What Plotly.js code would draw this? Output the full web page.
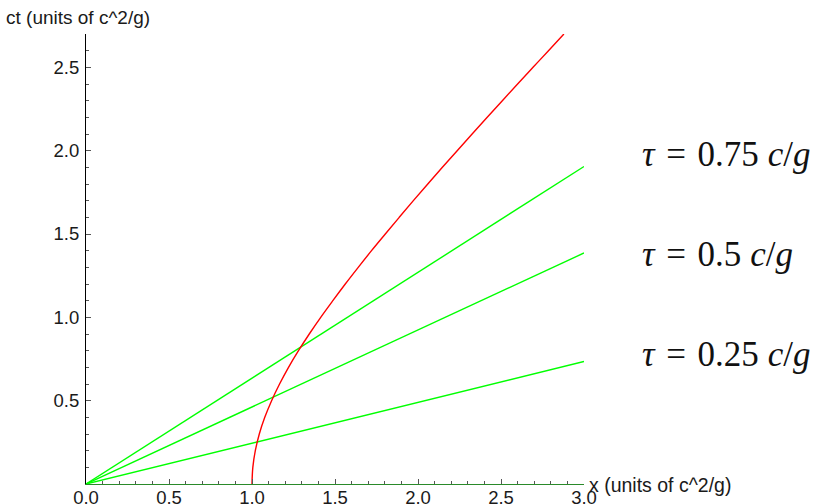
<!DOCTYPE html>
<html>
<head>
<meta charset="utf-8">
<script src="https://cdn.plot.ly/plotly-3.0.1.min.js"></script>
<style>html,body{margin:0;padding:0;background:#fff;}#chart{width:816px;height:504px;}</style>
</head>
<body>
<div id="chart"></div>
<script>
// Worldline of the accelerating observer
const hypX  = [1.0, 1.005, 1.02, 1.044, 1.077, 1.118, 1.166, 1.22, 1.28, 1.345, 1.414, 1.487, 1.562, 1.64, 1.72, 1.803, 1.887, 1.972, 2.059, 2.147, 2.236, 2.326, 2.417, 2.508, 2.6, 2.693, 2.786, 2.879];
const hypCt = [0.0, 0.1, 0.2, 0.3, 0.4, 0.5, 0.6, 0.7, 0.8, 0.9, 1.0, 1.1, 1.2, 1.3, 1.4, 1.5, 1.6, 1.7, 1.8, 1.9, 2.0, 2.1, 2.2, 2.3, 2.4, 2.5, 2.6, 2.7];
// Lines of simultaneity: end points read at x = 0 and x = 3
const lineX = [0, 3];
const line025 = [0, 0.735];
const line050 = [0, 1.386];
const line075 = [0, 1.905];
const labels = ["τ = 0.75 c/g", "τ = 0.5 c/g", "τ = 0.25 c/g"];
const labelValues = ["0.75", "0.5", "0.25"];
const labelCt = [1.975, 1.375, 0.775];
const yTicks = [0.5, 1.0, 1.5, 2.0, 2.5];
const xTicks = [0, 0.5, 1.0, 1.5, 2.0, 2.5, 3.0];

const hs = '\u200a';
const labelHtml = labelValues.map(v => '<i>τ</i> ' + hs + '=' + hs + ' ' + v + ' <i>c</i>/<i>g</i>');

const green = '#00ff00';
const traces = [
  {x: lineX, y: line025, mode: 'lines', line: {color: green, width: 1.4}, hoverinfo: 'skip'},
  {x: lineX, y: line050, mode: 'lines', line: {color: green, width: 1.4}, hoverinfo: 'skip'},
  {x: lineX, y: line075, mode: 'lines', line: {color: green, width: 1.4}, hoverinfo: 'skip'},
  {x: hypX, y: hypCt, mode: 'lines', line: {color: '#ff0000', width: 1.4, shape: 'spline'}, hoverinfo: 'skip'}
];

const sans = 'Liberation Sans, Arial, sans-serif';
const tickFont = {family: sans, size: 18.5, color: '#1a1a1a'};
const layout = {
  width: 816, height: 504,
  margin: {l: 86, r: 232, t: 34, b: 20, pad: 0},
  paper_bgcolor: '#fff', plot_bgcolor: '#fff',
  showlegend: false,
  xaxis: {
    range: [0, 3], showgrid: false, zeroline: false,
    showline: true, linecolor: '#2a8a2a', linewidth: 1.2,
    ticks: 'inside', ticklen: 5, tickcolor: '#555', tickwidth: 1,
    tickmode: 'array', tickvals: xTicks, ticktext: xTicks.map(v => v.toFixed(1)),
    minor: {ticks: 'inside', ticklen: 3, tickcolor: '#555', dtick: 0.1, tick0: 0, showgrid: false},
    tickfont: tickFont, ticklabelstandoff: -3
  },
  yaxis: {
    range: [0, 2.7], showgrid: false, zeroline: false,
    showline: true, linecolor: '#000', linewidth: 1,
    ticks: 'inside', ticklen: 5, tickcolor: '#555', tickwidth: 1,
    tickmode: 'array', tickvals: yTicks, ticktext: yTicks.map(v => v.toFixed(1)),
    minor: {ticks: 'inside', ticklen: 3, tickcolor: '#555', dtick: 0.1, tick0: 0, showgrid: false},
    tickfont: tickFont, ticklabelstandoff: 2
  },
  annotations: [
    {xref: 'paper', yref: 'paper', x: 0, y: 1, xanchor: 'left', yanchor: 'bottom', xshift: -82, yshift: 4,
     text: 'ct (units of c^2/g)', showarrow: false, font: {family: sans, size: 19, color: '#1a1a1a'}},
    {xref: 'paper', yref: 'y', x: 1, y: 0, xanchor: 'left', yanchor: 'middle', xshift: 3, yshift: -1,
     text: 'x (units of c^2/g)', showarrow: false, font: {family: sans, size: 19.5, color: '#1a1a1a'}}
  ].concat(labelHtml.map((t, i) => ({
    xref: 'paper', yref: 'y', x: 1, y: labelCt[i], xanchor: 'left', yanchor: 'middle', xshift: 56,
    text: t, showarrow: false, font: {family: 'Liberation Serif, Times New Roman, serif', size: 35, color: '#111'}
  })))
};

Plotly.newPlot('chart', traces, layout, {displayModeBar: false, staticPlot: true});
</script>
</body>
</html>
